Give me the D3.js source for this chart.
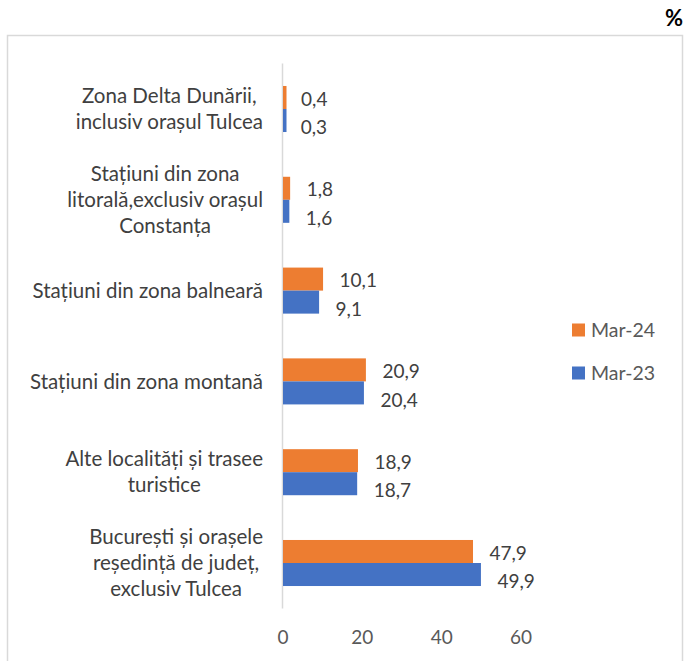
<!DOCTYPE html>
<html>
<head>
<meta charset="utf-8">
<script src="https://cdn.jsdelivr.net/npm/d3@7"></script>
<style>
  body { margin: 0; background: #fff; }
  text { font-family: Lato, "Noto Sans", sans-serif; }
</style>
</head>
<body>
<div id="chart"></div>
<script>
// data
const categoryLines = [
  ["Zona Delta Dunării,", "inclusiv orașul Tulcea"],
  ["Stațiuni din zona", "litorală,exclusiv orașul", "Constanța"],
  ["Stațiuni din zona balneară"],
  ["Stațiuni din zona montană"],
  ["Alte localități și trasee", "turistice"],
  ["București și orașele", "reședință de județ,", "exclusiv Tulcea"],
];
const categories = categoryLines.map((l) => l.join(" "));
const seriesNames = ["Mar-24", "Mar-23"];
const mar24 = [0.4, 1.8, 10.1, 20.9, 18.9, 47.9];
const mar23 = [0.3, 1.6, 9.1, 20.4, 18.7, 49.9];
const xTicks = [0, 20, 40, 60];

const colors = { "Mar-24": "#ED7D31", "Mar-23": "#4472C4" };

const width = 684;
const height = 661;

const svg = d3
  .select("#chart")
  .append("svg")
  .attr("width", width)
  .attr("height", height);

// chart border + unit
svg
  .append("rect")
  .attr("x", 7.5)
  .attr("y", 35.5)
  .attr("width", 675)
  .attr("height", 660)
  .attr("fill", "none")
  .attr("stroke", "#d9d9d9")
  .attr("stroke-width", 1.5);

svg
  .append("text")
  .attr("x", 683)
  .attr("y", 26)
  .attr("text-anchor", "end")
  .attr("font-weight", "bold")
  .attr("font-size", 22)
  .attr("fill", "#000")
  .text("%");

const xScale = d3.scaleLinear().domain([0, 60]).range([282.5, 520.5]);
const yScale = d3
  .scaleBand()
  .domain(categories)
  .range([63.6, 608.4])
  .paddingInner(0.493)
  .paddingOuter(0.2465);
const ySub = d3
  .scaleBand()
  .domain(seriesNames)
  .range([0, yScale.bandwidth()]);

const rows = categories.map((c, i) => ({
  cat: c,
  lines: categoryLines[i],
  values: [
    { key: "Mar-24", value: mar24[i] },
    { key: "Mar-23", value: mar23[i] },
  ],
}));

const fmt = d3.formatLocale({ decimal: ",", thousands: ".", grouping: [3], currency: ["", ""] }).format(".1f");

// x axis (labels only)
const xAxis = d3.axisBottom(xScale).tickValues(xTicks).tickSize(0).tickPadding(0);
const gx = svg
  .append("g")
  .attr("transform", "translate(0,630)")
  .call(xAxis);
gx.select(".domain").remove();
gx.selectAll("text")
  .attr("font-size", 19)
  .attr("fill", "#595959")
  .attr("font-family", "Lato, sans-serif");

// vertical axis line at 0
svg
  .append("line")
  .attr("x1", xScale(0))
  .attr("x2", xScale(0))
  .attr("y1", yScale.range()[0])
  .attr("y2", yScale.range()[1])
  .attr("stroke", "#d9d9d9")
  .attr("stroke-width", 1.5);

// groups
const groups = svg
  .selectAll("g.row")
  .data(rows)
  .enter()
  .append("g")
  .attr("class", "row")
  .attr("transform", (d) => `translate(0,${yScale(d.cat)})`);

groups
  .selectAll("rect")
  .data((d) => d.values)
  .enter()
  .append("rect")
  .attr("x", xScale(0) + 0.5)
  .attr("y", (d) => ySub(d.key))
  .attr("width", (d) => Math.max(xScale(d.value) - xScale(0), 3.5))
  .attr("height", ySub.bandwidth())
  .attr("fill", (d) => colors[d.key]);

groups
  .selectAll("text.val")
  .data((d) => d.values)
  .enter()
  .append("text")
  .attr("class", "val")
  .attr("x", (d) => xScale(d.value) + 17)
  .attr("y", (d) => ySub(d.key) + ySub.bandwidth() / 2 + (d.key === "Mar-23" ? 7 : 1.5))
  .attr("dy", "0.35em")
  .attr("font-size", 19)
  .attr("fill", "#404040")
  .text((d) => fmt(d.value));

// category labels, centred lines in a block right-aligned at 262
const lineH = 26;
groups
  .append("text")
  .attr("class", "cat")
  .attr("text-anchor", "middle")
  .attr("font-size", 20.5)
  .attr("fill", "#404040")
  .each(function (d) {
    const t = d3.select(this);
    const mid = yScale.bandwidth() / 2;
    const first = mid - ((d.lines.length - 1) * lineH) / 2;
    const spans = d.lines.map((line, i) =>
      t.append("tspan")
        .attr("y", first + i * lineH)
        .attr("dy", "0.35em")
        .text(line)
    );
    const maxW = d3.max(spans, (s) => s.node().getComputedTextLength());
    spans.forEach((s) => s.attr("x", 263 - maxW / 2));
  });

// legend
const legend = svg
  .selectAll("g.legend")
  .data(seriesNames)
  .enter()
  .append("g")
  .attr("class", "legend")
  .attr("transform", (d, i) => `translate(572,${330 + i * 43})`);

legend
  .append("rect")
  .attr("x", 0)
  .attr("y", -6.5)
  .attr("width", 13)
  .attr("height", 13)
  .attr("fill", (d) => colors[d]);

legend
  .append("text")
  .attr("x", 19)
  .attr("y", 0)
  .attr("dy", "0.35em")
  .attr("font-size", 19.5)
  .attr("fill", "#595959")
  .text((d) => d);
</script>
</body>
</html>
